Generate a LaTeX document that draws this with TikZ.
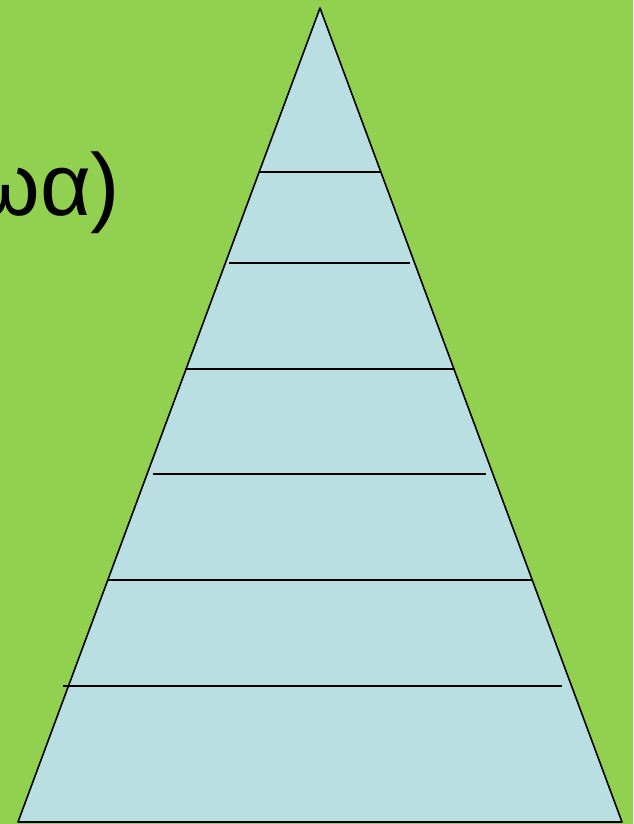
\documentclass[tikz,border=0pt]{standalone}
\usepackage{fontspec}
\setmainfont{Liberation Sans}
\definecolor{bggreen}{HTML}{92D050}
\definecolor{pyrblue}{HTML}{B9DFE3}
\begin{document}
\begin{tikzpicture}[x=1pt, y=-1pt, line width=1.6pt]
      \fill[bggreen] (0,0) rectangle (633,824);
      \useasboundingbox (0,0) rectangle (633,824);
      \coordinate (T) at (320,8);
      \coordinate (L) at (18,822);
      \coordinate (R) at (622,822);
      \filldraw[fill=pyrblue, line join=round] (T) -- (L) -- (R) -- cycle;
      \coordinate (A1) at (259,172);
      \coordinate (B1) at (381,172);
      \coordinate (A2) at (229,263);
      \coordinate (B2) at (410,263);
      \coordinate (A3) at (185,369);
      \coordinate (B3) at (455,369);
      \coordinate (A4) at (153,474);
      \coordinate (B4) at (486,474);
      \coordinate (A5) at (107,580);
      \coordinate (B5) at (532,580);
      \coordinate (A6) at (63,686);
      \coordinate (B6) at (562,686);
      \draw (A1) -- (B1);
      \draw (A2) -- (B2);
      \draw (A3) -- (B3);
      \draw (A4) -- (B4);
      \draw (A5) -- (B5);
      \draw (A6) -- (B6);
      \node[anchor=base east, inner sep=0pt, font=\fontsize{88}{100}\selectfont] (title) at (121,215) {ωα)};
    \end{tikzpicture}
\end{document}
